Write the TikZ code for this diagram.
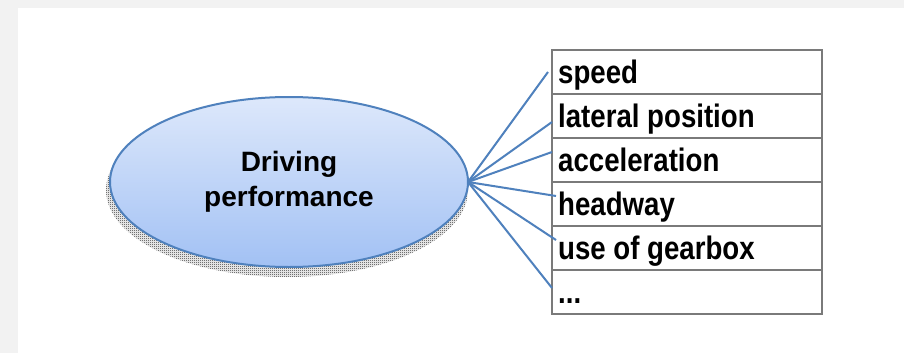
\documentclass[tikz,border=0pt]{standalone}
\usepackage{fontspec}
\setmainfont{Liberation Sans}
\newfontfamily\cellfont{Liberation Sans}[FakeStretch=0.85]
\usetikzlibrary{patterns}
\definecolor{pagegray}{HTML}{F2F2F2}
\definecolor{linkblue}{HTML}{4F81BD}
\definecolor{ovaltop}{HTML}{DDE8FB}
\definecolor{ovalbot}{HTML}{A2C1F4}
\definecolor{gridgray}{HTML}{7A7A7A}
% fine checkerboard used for the dithered shadow
\pgfdeclarepatternformonly{fineshade}{\pgfqpoint{0pt}{0pt}}{\pgfqpoint{2pt}{2pt}}{\pgfqpoint{2pt}{2pt}}{%
  \pgfpathrectangle{\pgfqpoint{0pt}{0pt}}{\pgfqpoint{1pt}{1pt}}%
  \pgfpathrectangle{\pgfqpoint{1pt}{1pt}}{\pgfqpoint{1pt}{1pt}}%
  \pgfusepath{fill}}
\tikzset{
  link/.style={draw=linkblue, line width=2pt},
  cell/.style={draw=gridgray, line width=1.4pt, fill=white},
  celltext/.style={anchor=base west, inner sep=0pt, font=\cellfont\bfseries\fontsize{32.5}{32}\selectfont},
  ovaltext/.style={align=center, font=\bfseries\fontsize{28}{35}\selectfont}
}
\begin{document}
\begin{tikzpicture}[x=1pt, y=-1pt]
  % page and canvas
  \fill[pagegray] (0,0) rectangle (904,353);
  \fill[white] (18,8) rectangle (904,353);
  \useasboundingbox (0,0) rectangle (904,353);

  % dithered shadow under the oval
  \fill[pattern=fineshade, pattern color=black!85] (287,190) ellipse [x radius=181, y radius=87];
  % the oval
  \shade[top color=ovaltop, bottom color=ovalbot] (289,182) ellipse [x radius=179, y radius=85];
  \draw[linkblue, line width=2pt] (289,182) ellipse [x radius=179, y radius=85];
  \node[ovaltext] (perf) at (289,182) {Driving\\performance};
  \coordinate (hub) at (468,182);

  % list of measures
  \foreach \i/\t in {0/speed, 1/lateral position, 2/acceleration, 3/headway, 4/use of gearbox} {
    \draw[cell] (552,50+44*\i) rectangle (822,94+44*\i);
    \node[celltext] (m\i) at (558,83+44*\i) {\t};
  }
  \draw[cell] (552,270) rectangle (822,314);
  \node[celltext] (m5) at (558,303) {.{}.{}.};
  \draw[gridgray, line width=2pt] (552,50) -- (822,50);
  \draw[gridgray, line width=2pt] (552,314) -- (822,314);

  % end points of the links on the left edge of the list
  \coordinate (e0) at (548,72);
  \coordinate (e1) at (552,122);
  \coordinate (e2) at (552,152);
  \coordinate (e3) at (556,196);
  \coordinate (e4) at (556,240);
  \coordinate (e5) at (552,288);
  \foreach \i in {0,...,5} {
    \draw[link] (hub) -- (e\i);
  }
\end{tikzpicture}
\end{document}
